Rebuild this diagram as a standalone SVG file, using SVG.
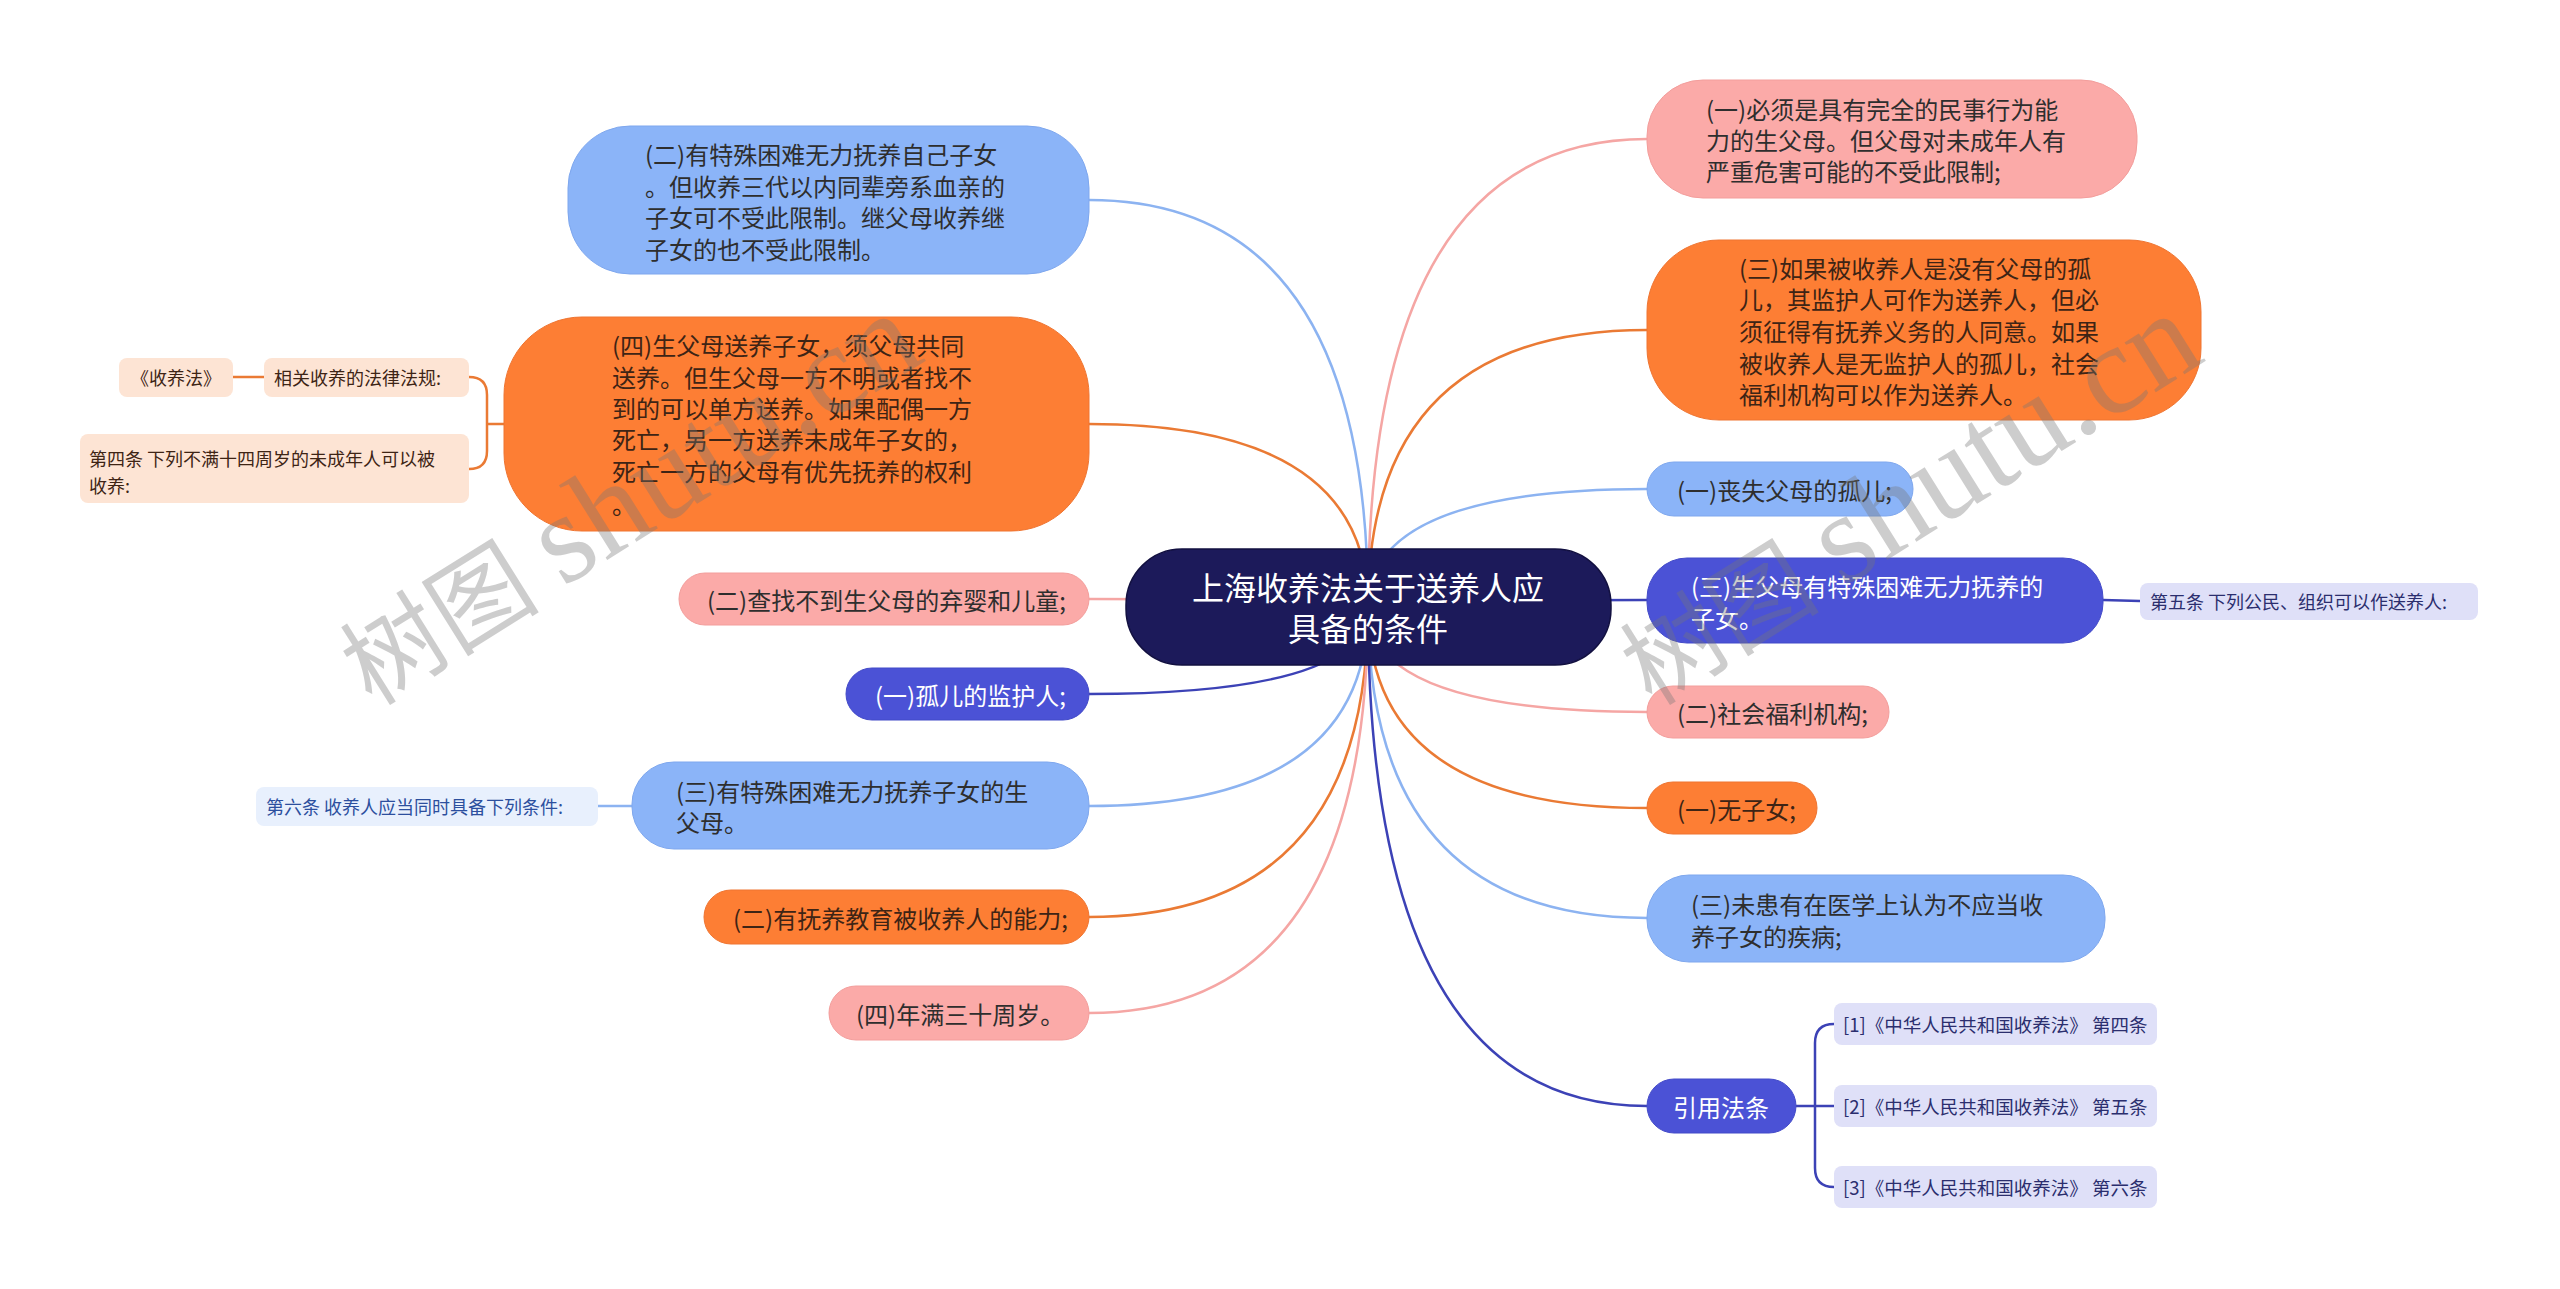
<svg xmlns="http://www.w3.org/2000/svg" width="2560" height="1289" viewBox="0 0 2560 1289">
<style>
.t{font-family:"Noto Sans CJK SC","Noto Sans",sans-serif;dominant-baseline:central}
.f24{font-size:24px}
.f18{font-size:18px}
.f19{font-size:18.5px}
.f32{font-size:32px}
.dk{fill:#2e2e2e}
.br{fill:#3e2415}
.wh{fill:#ffffff}
.lb{fill:#8bb4f8;stroke:#7ea7ee;stroke-width:1}
.or{fill:#fd7e34;stroke:#ef7430;stroke-width:1}
.pk{fill:#fbaaa8;stroke:#f39e9c;stroke-width:1}
.ind{fill:#4b52d6;stroke:#434ac8;stroke-width:1}
.peach{fill:#fde4d4}
.sky{fill:#e8f0fd}
.lav{fill:#dfe0f8}
.c{fill:none;stroke-width:2.5}
.cb{stroke:#8cb3f1}
.co{stroke:#ea7a34}
.cp{stroke:#f5a6a4}
.ci{stroke:#3c42b6}
.wm{font-family:"Liberation Serif","Noto Sans CJK SC",serif;font-size:100px;fill:#777;opacity:0.36}
.wl{font-size:128px}
</style>
<rect width="2560" height="1289" fill="#ffffff"/>
<g id="connectors">
<path class="c cb" d="M1368,607 Q1368,200 1089,200"/>
<path class="c co" d="M1368,607 Q1368,424 1089,424"/>
<path class="c cp" d="M1368,607 Q1368,599 1089,599"/>
<path class="c ci" d="M1368,607 Q1368,694 1089,694"/>
<path class="c cb" d="M1368,607 Q1368,806 1089,806"/>
<path class="c co" d="M1368,607 Q1368,917 1089,917"/>
<path class="c cp" d="M1368,607 Q1368,1013 1089,1013"/>
<path class="c cp" d="M1368,607 Q1368,139 1647,139"/>
<path class="c co" d="M1368,607 Q1368,330 1647,330"/>
<path class="c cb" d="M1368,607 Q1368,489 1647,489"/>
<path class="c ci" d="M1368,607 Q1368,600 1647,600"/>
<path class="c cp" d="M1368,607 Q1368,712 1647,712"/>
<path class="c co" d="M1368,607 Q1368,808 1647,808"/>
<path class="c cb" d="M1368,607 Q1368,918 1647,918"/>
<path class="c ci" d="M1368,607 Q1368,1106 1647,1106"/>
<path class="c co" d="M504,424 L487,424 M469,377 Q487,377 487,395 L487,451 Q487,469 469,469"/>
<path class="c co" d="M233,377 L264,377"/>
<path class="c cb" d="M598,806 L632,806"/>
<path class="c ci" d="M2103,600 L2140,601"/>
<path class="c ci" d="M1796,1106 L1834,1106 M1834,1024 Q1815,1024 1815,1043 L1815,1168 Q1815,1187 1834,1187"/>
</g>
<g id="center">
<rect x="1126" y="549" width="485" height="116" rx="56" fill="#1c1a5a" stroke="#121040" stroke-width="1.5"/>
<text class="t f32 wh" x="1368" text-anchor="middle"><tspan x="1368" y="586">上海收养法关于送养人应</tspan><tspan x="1368" y="627">具备的条件</tspan></text>
</g>
<g id="n-a">
<rect class="lb" x="568" y="126" width="521" height="148" rx="62"/>
<text class="t f24 dk"><tspan x="645" y="153">(二)有特殊困难无力抚养自己子女</tspan><tspan x="645" y="185">。但收养三代以内同辈旁系血亲的</tspan><tspan x="645" y="216">子女可不受此限制。继父母收养继</tspan><tspan x="645" y="248">子女的也不受此限制。</tspan></text>
</g>
<g id="n-b">
<rect class="or" x="504" y="317" width="585" height="214" rx="78"/>
<text class="t f24 br"><tspan x="612" y="344">(四)生父母送养子女，须父母共同</tspan><tspan x="612" y="376">送养。但生父母一方不明或者找不</tspan><tspan x="612" y="407">到的可以单方送养。如果配偶一方</tspan><tspan x="612" y="438">死亡，另一方送养未成年子女的，</tspan><tspan x="612" y="470">死亡一方的父母有优先抚养的权利</tspan><tspan x="612" y="503">。</tspan></text>
</g>
<g id="n-b1">
<rect class="peach" x="264" y="358" width="205" height="39" rx="8"/>
<text class="t f18 br" x="274" y="377">相关收养的法律法规:</text>
</g>
<g id="n-b1a">
<rect class="peach" x="119" y="358" width="114" height="39" rx="8"/>
<text class="t f18 br" x="176" y="377" text-anchor="middle">《收养法》</text>
</g>
<g id="n-b2">
<rect class="peach" x="80" y="434" width="389" height="69" rx="8"/>
<text class="t f18 br"><tspan x="89" y="458">第四条 下列不满十四周岁的未成年人可以被</tspan><tspan x="89" y="485">收养:</tspan></text>
</g>
<g id="n-d">
<rect class="pk" x="679" y="573" width="410" height="52" rx="26"/>
<text class="t f24 dk" x="707" y="599">(二)查找不到生父母的弃婴和儿童;</text>
</g>
<g id="n-e">
<rect class="ind" x="846" y="668" width="243" height="52" rx="26"/>
<text class="t f24 wh" x="875" y="694">(一)孤儿的监护人;</text>
</g>
<g id="n-f">
<rect class="lb" x="632" y="762" width="457" height="87" rx="42"/>
<text class="t f24 dk"><tspan x="676" y="790">(三)有特殊困难无力抚养子女的生</tspan><tspan x="676" y="821">父母。</tspan></text>
</g>
<g id="n-g">
<rect class="sky" x="256" y="787" width="342" height="39" rx="8"/>
<text class="t f18" fill="#2c4f9e" x="266" y="806">第六条 收养人应当同时具备下列条件:</text>
</g>
<g id="n-h">
<rect class="or" x="704" y="890" width="385" height="54" rx="27"/>
<text class="t f24 br" x="733" y="917">(二)有抚养教育被收养人的能力;</text>
</g>
<g id="n-i">
<rect class="pk" x="829" y="986" width="260" height="54" rx="27"/>
<text class="t f24 dk" x="856" y="1013">(四)年满三十周岁。</text>
</g>
<g id="n-j">
<rect class="pk" x="1647" y="80" width="490" height="118" rx="56"/>
<text class="t f24 dk"><tspan x="1706" y="108">(一)必须是具有完全的民事行为能</tspan><tspan x="1706" y="139">力的生父母。但父母对未成年人有</tspan><tspan x="1706" y="170">严重危害可能的不受此限制;</tspan></text>
</g>
<g id="n-k">
<rect class="or" x="1647" y="240" width="554" height="180" rx="72"/>
<text class="t f24 br"><tspan x="1739" y="267">(三)如果被收养人是没有父母的孤</tspan><tspan x="1739" y="298">儿，其监护人可作为送养人，但必</tspan><tspan x="1739" y="330">须征得有抚养义务的人同意。如果</tspan><tspan x="1739" y="362">被收养人是无监护人的孤儿，社会</tspan><tspan x="1739" y="393">福利机构可以作为送养人。</tspan></text>
</g>
<g id="n-l">
<rect class="lb" x="1647" y="462" width="266" height="54" rx="27"/>
<text class="t f24 dk" x="1677" y="489">(一)丧失父母的孤儿;</text>
</g>
<g id="n-m">
<rect class="ind" x="1647" y="558" width="456" height="85" rx="40"/>
<text class="t f24 wh"><tspan x="1691" y="585">(三)生父母有特殊困难无力抚养的</tspan><tspan x="1691" y="617">子女。</tspan></text>
</g>
<g id="n-n">
<rect class="lav" x="2140" y="583" width="338" height="37" rx="8"/>
<text class="t f18" fill="#2b2e6e" x="2150" y="601">第五条 下列公民、组织可以作送养人:</text>
</g>
<g id="n-o">
<rect class="pk" x="1647" y="686" width="242" height="52" rx="26"/>
<text class="t f24 dk" x="1677" y="712">(二)社会福利机构;</text>
</g>
<g id="n-p">
<rect class="or" x="1647" y="782" width="170" height="52" rx="26"/>
<text class="t f24 br" x="1677" y="808">(一)无子女;</text>
</g>
<g id="n-q">
<rect class="lb" x="1647" y="875" width="458" height="87" rx="42"/>
<text class="t f24 dk"><tspan x="1691" y="903">(三)未患有在医学上认为不应当收</tspan><tspan x="1691" y="935">养子女的疾病;</tspan></text>
</g>
<g id="n-r">
<rect class="ind" x="1647" y="1079" width="149" height="54" rx="27"/>
<text class="t f24 wh" x="1721" y="1106" text-anchor="middle">引用法条</text>
</g>
<g id="n-s1">
<rect class="lav" x="1834" y="1003" width="323" height="42" rx="8"/>
<text class="t f19" fill="#2b2e6e" x="1843" y="1024">[1]《中华人民共和国收养法》 第四条</text>
</g>
<g id="n-s2">
<rect class="lav" x="1834" y="1085" width="323" height="42" rx="8"/>
<text class="t f19" fill="#2b2e6e" x="1843" y="1106">[2]《中华人民共和国收养法》 第五条</text>
</g>
<g id="n-s3">
<rect class="lav" x="1834" y="1166" width="323" height="42" rx="8"/>
<text class="t f19" fill="#2b2e6e" x="1843" y="1187">[3]《中华人民共和国收养法》 第六条</text>
</g>
<g id="watermark">
<text class="wm" transform="translate(372,707) rotate(-32)">树图 <tspan class="wl">shutu.cn</tspan></text>
<text class="wm" transform="translate(1652,707) rotate(-32)">树图 <tspan class="wl">shutu.cn</tspan></text>
</g>
</svg>
